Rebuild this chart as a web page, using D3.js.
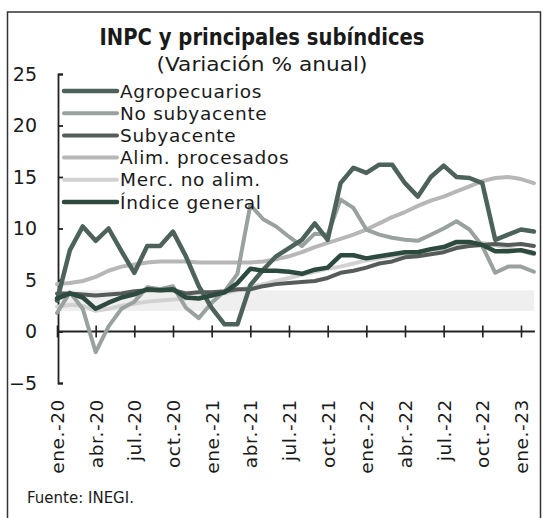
<!DOCTYPE html>
<html>
<head>
<meta charset="utf-8">
<script src="https://cdn.jsdelivr.net/npm/d3@7"></script>
<style>
  body { margin: 0; background: #fff; }
  svg { display: block; font-family: "DejaVu Sans", sans-serif; }
</style>
</head>
<body>
<div id="chart"></div>
<script>
// monthly data, ene.-20 .. feb.-23 (annual % change)
const agropecuarios = [3.0, 7.9, 10.2, 8.8, 10.0, 7.8, 5.7, 8.3, 8.3, 9.7, 7.3, 4.4,
    2.3, 0.7, 0.7, 4.5, 6.0, 7.3, 8.1, 8.9, 10.5, 8.9, 14.4, 15.9,
    15.4, 16.2, 16.2, 14.4, 13.1, 15.0, 16.1, 15.0, 14.9, 14.4, 8.9, 9.4,
    9.9, 9.7];
const noSubyacente = [1.8, 3.8, 2.2, -2.0, 0.5, 2.2, 2.9, 4.3, 4.1, 4.4, 2.3, 1.3,
    2.8, 3.9, 5.6, 12.3, 10.9, 10.2, 9.2, 8.3, 9.5, 9.4, 12.8, 12.0,
    9.9, 9.4, 9.1, 8.9, 8.8, 9.4, 10.0, 10.7, 9.9, 8.3, 5.7, 6.3,
    6.3, 5.8];
const subyacente = [3.7, 3.7, 3.6, 3.5, 3.6, 3.7, 3.9, 4.0, 4.0, 4.0, 3.7, 3.8,
    3.8, 3.9, 4.1, 4.1, 4.4, 4.6, 4.7, 4.8, 4.9, 5.2, 5.7, 5.9,
    6.2, 6.6, 6.8, 7.2, 7.3, 7.5, 7.7, 8.1, 8.3, 8.4, 8.5, 8.4,
    8.5, 8.3];
const alimProcesados = [4.6, 4.7, 4.9, 5.3, 5.9, 6.3, 6.5, 6.7, 6.8, 6.8, 6.8, 6.7,
    6.7, 6.7, 6.7, 6.7, 6.8, 7.0, 7.3, 7.7, 8.2, 8.6, 9.0, 9.4,
    9.9, 10.5, 11.1, 11.6, 12.2, 12.7, 13.1, 13.6, 14.1, 14.6, 14.9, 15.0,
    14.8, 14.4];
const mercNoAlim = [2.4, 2.6, 2.5, 2.0, 2.2, 2.5, 2.7, 2.9, 3.0, 3.1, 3.2, 3.3,
    3.5, 3.7, 4.0, 4.3, 4.6, 4.9, 5.2, 5.5, 5.8, 6.1, 6.3, 6.6,
    6.9, 7.1, 7.3, 7.5, 7.7, 7.9, 8.1, 8.3, 8.5, 8.6, 8.4, 8.1,
    7.8, 7.5];
const indiceGeneral = [3.2, 3.7, 3.3, 2.2, 2.8, 3.3, 3.6, 4.1, 4.0, 4.1, 3.3, 3.2,
    3.5, 3.8, 4.7, 6.1, 5.9, 5.9, 5.8, 5.6, 6.0, 6.2, 7.4, 7.4,
    7.1, 7.3, 7.5, 7.7, 7.7, 8.0, 8.2, 8.7, 8.7, 8.4, 7.8, 7.8,
    7.9, 7.6];

const tickMonths = [0, 3, 6, 9, 12, 15, 18, 21, 24, 27, 30, 33, 36];
const tickLabels = ['ene.-20', 'abr.-20', 'jul.-20', 'oct.-20', 'ene.-21', 'abr.-21', 'jul.-21',
    'oct.-21', 'ene.-22', 'abr.-22', 'jul.-22', 'oct.-22', 'ene.-23'];
const yTicks = [-5, 0, 5, 10, 15, 20, 25];
const targetBand = [2, 4];   // rango de la meta

const series = [
    { name: 'Merc. no alim.', values: mercNoAlim, color: '#d2d2d2', width: 4 },
    { name: 'Alim. procesados', values: alimProcesados, color: '#b7b7b7', width: 4 },
    { name: 'No subyacente', values: noSubyacente, color: '#9aa29f', width: 4 },
    { name: 'Subyacente', values: subyacente, color: '#565c5a', width: 4 },
    { name: 'Agropecuarios', values: agropecuarios, color: '#4c625a', width: 4.5 },
    { name: 'Índice general', values: indiceGeneral, color: '#2d4a3f', width: 4.5 }
];
const legendOrder = ['Agropecuarios', 'No subyacente', 'Subyacente', 'Alim. procesados', 'Merc. no alim.', 'Índice general'];

const W = 544, H = 518;
const svg = d3.select('#chart').append('svg')
    .attr('width', W)
    .attr('height', H);

// frame
svg.append('rect')
    .attr('x', 7.5).attr('y', 12)
    .attr('width', 533).attr('height', 530)
    .attr('fill', 'none')
    .attr('stroke', '#333')
    .attr('stroke-width', 1.5);

const x = d3.scaleLinear().domain([0, 36]).range([57, 521]);
const y = d3.scaleLinear().domain([-5, 25]).range([383, 74]);
const lastX = x(agropecuarios.length - 1);

// title
svg.append('text')
    .attr('x', 262).attr('y', 45)
    .attr('text-anchor', 'middle')
    .attr('textLength', 325)
    .attr('lengthAdjust', 'spacingAndGlyphs')
    .style('font-size', '23px')
    .style('font-weight', 'bold')
    .style('fill', '#1a1a1a')
    .text('INPC y principales subíndices');

svg.append('text')
    .attr('x', 262).attr('y', 71)
    .attr('text-anchor', 'middle')
    .attr('textLength', 211)
    .attr('lengthAdjust', 'spacingAndGlyphs')
    .style('font-size', '19px')
    .style('fill', '#1a1a1a')
    .text('(Variación % anual)');

// target band 2-4%
svg.append('rect')
    .attr('x', x(0)).attr('y', y(targetBand[1]))
    .attr('width', lastX - x(0))
    .attr('height', y(targetBand[0]) - y(targetBand[1]))
    .attr('fill', '#efefef');

// y axis
const yAxis = svg.append('g')
    .attr('transform', `translate(${x(0) + 1},0)`)
    .call(d3.axisLeft(y).tickValues(yTicks).tickSizeInner(-5).tickSizeOuter(-5).tickPadding(21));
yAxis.selectAll('path, line').attr('stroke', '#222').attr('stroke-width', 1.8);
yAxis.selectAll('text')
    .style('font-size', '19px')
    .style('fill', '#1a1a1a')
    .style('font-family', '"DejaVu Sans", sans-serif');

// x axis at zero
svg.append('line')
    .attr('x1', x(0)).attr('x2', lastX + 1)
    .attr('y1', y(0)).attr('y2', y(0))
    .attr('stroke', '#222')
    .attr('stroke-width', 1.8);

const xAxis = svg.append('g')
    .attr('transform', `translate(0,${y(0) - 6})`)
    .call(d3.axisBottom(x).tickValues(tickMonths).tickSize(12).tickSizeOuter(0).tickFormat(''));
xAxis.select('.domain').remove();
xAxis.selectAll('line').attr('stroke', '#222').attr('stroke-width', 1.6);

svg.append('g').selectAll('text')
    .data(tickMonths)
    .enter()
    .append('text')
    .attr('transform', (d) => `translate(${x(d) + 7},399) rotate(-90)`)
    .attr('text-anchor', 'end')
    .style('font-size', '18.5px')
    .style('letter-spacing', '0.6px')
    .style('fill', '#1a1a1a')
    .text((d, i) => tickLabels[i]);

// lines
const line = d3.line()
    .x((d, i) => x(i))
    .y(d => y(d))
    .curve(d3.curveLinear);

svg.append('g').selectAll('path')
    .data(series)
    .enter()
    .append('path')
    .attr('d', d => line(d.values))
    .attr('fill', 'none')
    .attr('stroke', d => d.color)
    .attr('stroke-width', d => d.width)
    .attr('stroke-linejoin', 'round')
    .attr('stroke-linecap', 'round');

// legend
const legend = svg.append('g');
legendOrder.forEach((name, i) => {
    const s = series.find(d => d.name === name);
    const ly = 91 + i * 22.2;
    legend.append('line')
        .attr('x1', 64).attr('x2', 117)
        .attr('y1', ly).attr('y2', ly)
        .attr('stroke', s.color)
        .attr('stroke-width', s.width)
        .attr('stroke-linecap', 'round');
    legend.append('text')
        .attr('x', 120).attr('y', ly + 6.5)
        .style('font-size', '18.5px')
        .style('letter-spacing', '0.7px')
        .style('fill', '#1a1a1a')
        .text(name);
});

// source
svg.append('text')
    .attr('x', 27).attr('y', 503)
    .style('font-size', '15px')
    .style('fill', '#1a1a1a')
    .text('Fuente: INEGI.');
</script>
</body>
</html>
